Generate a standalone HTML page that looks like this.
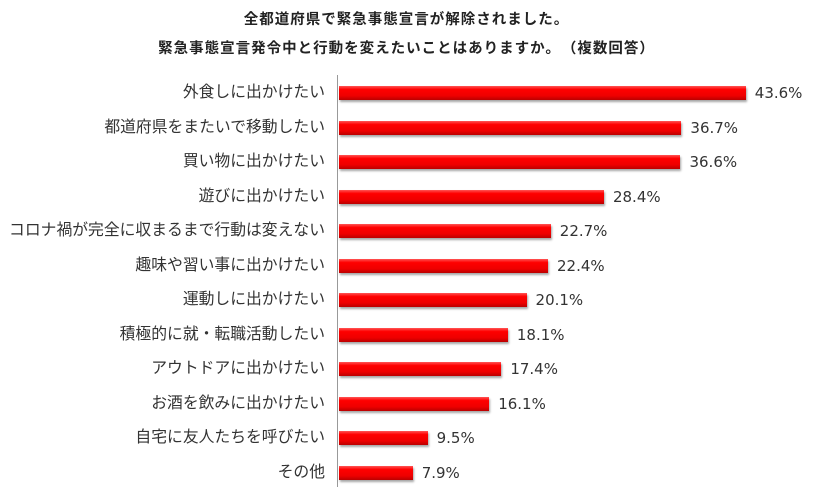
<!DOCTYPE html>
<html><head><meta charset="utf-8"><style>
body{margin:0;background:#fff;width:813px;height:488px;overflow:hidden;position:relative;font-family:"Liberation Sans","Noto Sans CJK JP",sans-serif;}
.t{position:absolute;left:0;width:813px;text-align:center;font-weight:bold;font-size:14.5px;letter-spacing:1px;color:#222;}
.lab{position:absolute;right:488px;font-size:15.8px;color:#333;white-space:nowrap;line-height:20px;}
.bar{position:absolute;left:339px;height:14px;background:linear-gradient(#f55 0%,#f00 25%,#e00 70%,#b00 100%);box-shadow:1px 2px 2px rgba(0,0,0,0.35);}
.val{position:absolute;font-size:15px;color:#333;line-height:20px;font-family:"DejaVu Sans",sans-serif;}
.axis{position:absolute;left:337px;top:75px;width:1px;height:412px;background:#999;}
</style></head><body>
<div class="t" style="top:8px">全都道府県で緊急事態宣言が解除されました。</div>
<div class="t" style="top:37px">緊急事態宣言発令中と行動を変えたいことはありますか。&#12288;（複数回答）</div>
<div class="axis"></div>
<div id="c"></div>
<script>
var d=[["外食しに出かけたい",43.6],["都道府県をまたいで移動したい",36.7],["買い物に出かけたい",36.6],["遊びに出かけたい",28.4],["コロナ禍が完全に収まるまで行動は変えない",22.7],["趣味や習い事に出かけたい",22.4],["運動しに出かけたい",20.1],["積極的に就・転職活動したい",18.1],["アウトドアに出かけたい",17.4],["お酒を飲みに出かけたい",16.1],["自宅に友人たちを呼びたい",9.5],["その他",7.9]];
var h="";
d.forEach(function(r,i){var cy=93+i*34.5;var w=r[1]*9.33;
h+='<div class="lab" style="top:'+(cy-10)+'px">'+r[0]+'</div>';
h+='<div class="bar" style="top:'+(cy-7)+'px;width:'+w+'px"></div>';
h+='<div class="val" style="top:'+(cy-10)+'px;left:'+(339+w+9)+'px">'+r[1].toFixed(1)+'%</div>';});
document.getElementById("c").innerHTML=h;
</script>
</body></html>
